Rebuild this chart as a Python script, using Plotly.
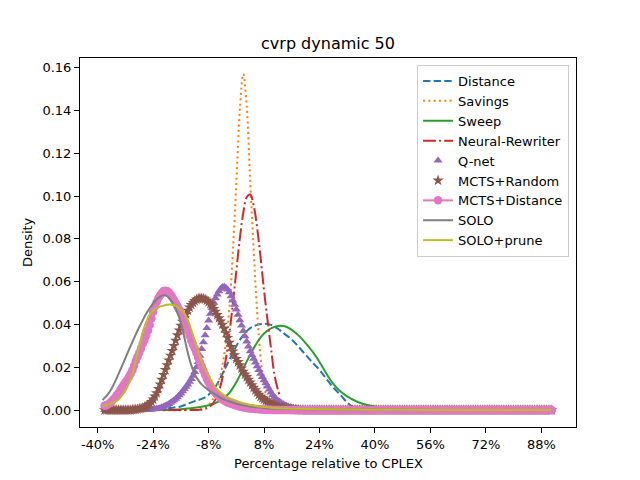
import plotly.graph_objects as go

# ---------------- data ----------------
X_TICKS = [-40, -24, -8, 8, 24, 40, 56, 72, 88]
X_TICK_TEXT = ["-40%", "-24%", "-8%", "8%", "24%", "40%", "56%", "72%", "88%"]
Y_TICKS = [0.00, 0.02, 0.04, 0.06, 0.08, 0.10, 0.12, 0.14, 0.16]

# line series (percentage, density)
DISTANCE_X = [-38, -26, -24, -22, -20, -18, -16, -14, -12, -10,
              -8, -6, -4, -2, 0, 2, 4, 6, 8, 10,
              12, 14, 16, 18, 20, 22, 24, 26, 28, 30,
              32, 34, 36, 38, 91]
DISTANCE_Y = [0.0000, 0.0001, 0.0002, 0.0005, 0.0008, 0.0012, 0.0017, 0.0030, 0.0042, 0.0052,
              0.0072, 0.0110, 0.0170, 0.0235, 0.0300, 0.0350, 0.0383, 0.0398, 0.0403, 0.0398,
              0.0380, 0.0355, 0.0330, 0.0295, 0.0258, 0.0222, 0.0188, 0.0145, 0.0105, 0.0072,
              0.0035, 0.0012, 0.0003, 0.0000, 0.0000]

SAVINGS_X = [-38, -14, -12, -11, -10, -9, -8, -7, -6, -5,
             -4, -3, -2, -1, 0, 1, 2, 3, 4, 5,
             6, 7, 8, 9, 10, 11, 12]
SAVINGS_Y = [0.0000, 0.0000, 0.0001, 0.0003, 0.0006, 0.0012, 0.0025, 0.0045, 0.0078, 0.0135,
             0.0210, 0.0320, 0.0480, 0.0740, 0.1060, 0.1400, 0.1570, 0.1420, 0.1070, 0.0750,
             0.0460, 0.0250, 0.0120, 0.0040, 0.0010, 0.0002, 0.0000]

SWEEP_X = [-38, -20, -18, -16, -14, -12, -10, -8, -6, -4,
           -2, 0, 2, 4, 6, 8, 10, 12, 14, 16,
           18, 20, 22, 24, 26, 28, 30, 32, 34, 36,
           38, 40, 42, 44, 46, 48, 50, 54, 58, 62,
           91]
SWEEP_Y = [0.0000, 0.0001, 0.0002, 0.0004, 0.0007, 0.0011, 0.0016, 0.0023, 0.0033, 0.0052,
           0.0080, 0.0130, 0.0195, 0.0258, 0.0316, 0.0358, 0.0382, 0.0393, 0.0392, 0.0375,
           0.0348, 0.0313, 0.0273, 0.0225, 0.0170, 0.0122, 0.0088, 0.0064, 0.0046, 0.0032,
           0.0023, 0.0017, 0.0013, 0.0010, 0.0008, 0.0006, 0.0005, 0.0003, 0.0001, 0.0000,
           0.0000]

REWRITER_X = [-38, -14, -12, -11, -10, -9, -8, -7, -6, -5,
              -4, -3, -2, -1, 0, 1, 2, 3, 4, 5,
              6, 7, 8, 9, 10, 11, 12, 12.4]
REWRITER_Y = [0.0000, 0.0000, 0.0000, 0.0001, 0.0002, 0.0006, 0.0013, 0.0026, 0.0050, 0.0089,
              0.0151, 0.0240, 0.0357, 0.0497, 0.0651, 0.0800, 0.0921, 0.0994, 0.1007, 0.0957,
              0.0853, 0.0713, 0.0558, 0.0420, 0.0290, 0.0165, 0.0095, 0.0075]

SOLO_X = [-38.6, -37, -36, -35, -34, -33, -32, -31, -30, -29,
          -28, -27, -26, -25, -24, -23, -22, -21, -20, -19,
          -18, -17, -16, -15, -14, -13, -12, -11, -10, -8,
          -6, -4, -2, 0, 2, 4, 6, 8, 10, 14,
          20, 30, 45, 60, 91]
SOLO_Y = [0.0047, 0.0075, 0.0100, 0.0132, 0.0168, 0.0205, 0.0243, 0.0281, 0.0318, 0.0354,
          0.0388, 0.0420, 0.0450, 0.0476, 0.0499, 0.0517, 0.0530, 0.0536, 0.0533, 0.0515,
          0.0490, 0.0455, 0.0408, 0.0340, 0.0268, 0.0210, 0.0168, 0.0140, 0.0120, 0.0093,
          0.0072, 0.0052, 0.0040, 0.0030, 0.0022, 0.0017, 0.0013, 0.0010, 0.0008, 0.0006,
          0.0004, 0.0003, 0.0002, 0.0001, 0.0001]

PRUNE_X = [-38.6, -37, -36, -35, -34, -33, -32, -31, -30, -29,
           -28, -27, -26, -25, -24, -23, -22, -21, -20, -19,
           -18, -17, -16, -15, -14, -13, -12, -11, -10, -9,
           -8, -7, -6, -4, -2, 0, 2, 4, 6, 8,
           10, 15, 25, 40, 60, 91]
PRUNE_Y = [0.0018, 0.0026, 0.0032, 0.0038, 0.0050, 0.0068, 0.0090, 0.0125, 0.0171, 0.0235,
           0.0300, 0.0365, 0.0412, 0.0445, 0.0465, 0.0477, 0.0484, 0.0488, 0.0492, 0.0493,
           0.0490, 0.0482, 0.0468, 0.0450, 0.0420, 0.0375, 0.0325, 0.0272, 0.0225, 0.0188,
           0.0158, 0.0128, 0.0104, 0.0075, 0.0056, 0.0043, 0.0032, 0.0024, 0.0018, 0.0014,
           0.0011, 0.0007, 0.0004, 0.0002, 0.0001, 0.0001]

# marker series, sampled every 0.5% from -38% to 91% (259 samples)
MARK_X = [-38 + 0.5 * i for i in range(259)]

# Q-net: zero up to -26.5%, values from -26% to 23%, zero afterwards
QNET_Y = ([0.0] * 24 +
          [0.0001, 0.0001, 0.0002, 0.0003, 0.0004, 0.0005, 0.0006, 0.0008, 0.0010, 0.0013,
           0.0016, 0.0020, 0.0024, 0.0029, 0.0034, 0.0040, 0.0046, 0.0053, 0.0060, 0.0069,
           0.0078, 0.0088, 0.0098, 0.0109, 0.0120, 0.0132, 0.0145, 0.0160, 0.0178, 0.0200,
           0.0225, 0.0254, 0.0285, 0.0317, 0.0350, 0.0384, 0.0418, 0.0450, 0.0478, 0.0502,
           0.0522, 0.0540, 0.0555, 0.0567, 0.0575, 0.0576, 0.0572, 0.0563, 0.0550, 0.0532,
           0.0512, 0.0492, 0.0470, 0.0445, 0.0420, 0.0395, 0.0370, 0.0345, 0.0320, 0.0297,
           0.0275, 0.0257, 0.0240, 0.0222, 0.0205, 0.0187, 0.0170, 0.0155, 0.0140, 0.0125,
           0.0110, 0.0096, 0.0082, 0.0070, 0.0060, 0.0052, 0.0045, 0.0039, 0.0033, 0.0028,
           0.0024, 0.0020, 0.0017, 0.0014, 0.0012, 0.0010, 0.0008, 0.0006, 0.0005, 0.0004,
           0.0003, 0.0002, 0.0002, 0.0001, 0.0001, 0.0001, 0.0001, 0.0000, 0.0000] +
          [0.0] * 136)

# MCTS+Random: zero up to -30.5%, values from -30% to 19%, zero afterwards
RANDOM_Y = ([0.0] * 16 +
            [0.0002, 0.0002, 0.0003, 0.0004, 0.0006, 0.0008, 0.0010, 0.0013, 0.0017, 0.0023,
             0.0030, 0.0039, 0.0050, 0.0064, 0.0080, 0.0099, 0.0120, 0.0142, 0.0165, 0.0188,
             0.0210, 0.0233, 0.0255, 0.0277, 0.0300, 0.0325, 0.0350, 0.0373, 0.0395, 0.0413,
             0.0430, 0.0448, 0.0465, 0.0480, 0.0492, 0.0502, 0.0510, 0.0516, 0.0520, 0.0522,
             0.0522, 0.0521, 0.0518, 0.0512, 0.0505, 0.0496, 0.0485, 0.0473, 0.0460, 0.0445,
             0.0430, 0.0415, 0.0400, 0.0381, 0.0360, 0.0338, 0.0315, 0.0295, 0.0275, 0.0257,
             0.0240, 0.0225, 0.0210, 0.0195, 0.0180, 0.0167, 0.0155, 0.0142, 0.0130, 0.0117,
             0.0105, 0.0093, 0.0082, 0.0072, 0.0063, 0.0056, 0.0050, 0.0044, 0.0039, 0.0034,
             0.0030, 0.0026, 0.0022, 0.0019, 0.0016, 0.0013, 0.0011, 0.0009, 0.0008, 0.0006,
             0.0005, 0.0004, 0.0003, 0.0002, 0.0002, 0.0001, 0.0001, 0.0000, 0.0000] +
            [0.0] * 144)

# MCTS+Distance: values from -38% to 11%, zero afterwards
MCTS_DIST_Y = ([0.0020, 0.0023, 0.0027, 0.0033, 0.0040, 0.0049, 0.0058, 0.0069, 0.0080, 0.0093,
                0.0106, 0.0118, 0.0130, 0.0142, 0.0155, 0.0170, 0.0186, 0.0207, 0.0230, 0.0249,
                0.0268, 0.0289, 0.0310, 0.0328, 0.0348, 0.0372, 0.0398, 0.0428, 0.0458, 0.0484,
                0.0505, 0.0522, 0.0535, 0.0547, 0.0556, 0.0558, 0.0556, 0.0549, 0.0540, 0.0528,
                0.0515, 0.0500, 0.0485, 0.0470, 0.0455, 0.0438, 0.0418, 0.0394, 0.0370, 0.0347,
                0.0325, 0.0307, 0.0288, 0.0267, 0.0245, 0.0225, 0.0205, 0.0185, 0.0165, 0.0147,
                0.0130, 0.0114, 0.0100, 0.0089, 0.0080, 0.0071, 0.0063, 0.0056, 0.0050, 0.0045,
                0.0040, 0.0036, 0.0033, 0.0030, 0.0027, 0.0024, 0.0022, 0.0019, 0.0017, 0.0015,
                0.0013, 0.0011, 0.0010, 0.0009, 0.0008, 0.0007, 0.0006, 0.0005, 0.0005, 0.0004,
                0.0004, 0.0003, 0.0003, 0.0002, 0.0002, 0.0002, 0.0002, 0.0001, 0.0001] +
               [0.0] * 160)

# ---------------- styling ----------------
C_BLUE, C_ORANGE, C_GREEN, C_RED = "#1f77b4", "#ff7f0e", "#2ca02c", "#d62728"
C_PURPLE, C_BROWN, C_PINK, C_GRAY, C_OLIVE = "#9467bd", "#8c564b", "#e377c2", "#7f7f7f", "#bcbd22"
FONT = "DejaVu Sans"

fig = go.Figure()

fig.add_trace(go.Scatter(x=DISTANCE_X, y=DISTANCE_Y, mode="lines", name="Distance",
                         line=dict(color=C_BLUE, width=2, dash="7.4px,3.2px", shape="spline")))
fig.add_trace(go.Scatter(x=SAVINGS_X, y=SAVINGS_Y, mode="lines", name="Savings",
                         line=dict(color=C_ORANGE, width=2, dash="2px,3.3px", shape="spline")))
fig.add_trace(go.Scatter(x=SWEEP_X, y=SWEEP_Y, mode="lines", name="Sweep",
                         line=dict(color=C_GREEN, width=2, shape="spline")))
fig.add_trace(go.Scatter(x=REWRITER_X, y=REWRITER_Y, mode="lines", name="Neural-Rewriter",
                         line=dict(color=C_RED, width=2, dash="12.8px,3.2px,2px,3.2px", shape="spline")))
fig.add_trace(go.Scatter(x=MARK_X, y=QNET_Y, mode="markers", name="Q-net",
                         marker=dict(color=C_PURPLE, size=8, symbol="triangle-up", line=dict(width=0))))
fig.add_trace(go.Scatter(x=MARK_X, y=RANDOM_Y, mode="markers", name="MCTS+Random",
                         marker=dict(color=C_BROWN, size=8.5, symbol="star", line=dict(width=0))))
fig.add_trace(go.Scatter(x=MARK_X, y=MCTS_DIST_Y, mode="lines+markers", name="MCTS+Distance",
                         line=dict(color=C_PINK, width=2),
                         marker=dict(color=C_PINK, size=8.5, symbol="circle", line=dict(width=0))))
fig.add_trace(go.Scatter(x=SOLO_X, y=SOLO_Y, mode="lines", name="SOLO",
                         line=dict(color=C_GRAY, width=2, shape="spline")))
fig.add_trace(go.Scatter(x=PRUNE_X, y=PRUNE_Y, mode="lines", name="SOLO+prune",
                         line=dict(color=C_OLIVE, width=2, shape="spline")))

axis_common = dict(showline=True, mirror=True, linecolor="black", linewidth=1,
                   ticks="outside", ticklen=5, tickwidth=1, tickcolor="black",
                   showgrid=False, zeroline=False,
                   tickfont=dict(family=FONT, size=13, color="black"))

fig.update_xaxes(range=[-45.1, 98.0], tickmode="array", tickvals=X_TICKS,
                 ticktext=X_TICK_TEXT, **axis_common)
fig.update_yaxes(range=[-0.0079, 0.1645], tickmode="array", tickvals=Y_TICKS,
                 ticktext=[f"{v:.2f}" for v in Y_TICKS], **axis_common)

# the page body adds an 8px margin, so the figure is sized to fit inside it
W, H = 624, 464
fig.update_layout(
    width=W, height=H,
    margin=dict(l=72, r=56, t=50, b=45),
    paper_bgcolor="white", plot_bgcolor="white",
    font=dict(family=FONT, size=13, color="black"),
    title=dict(text="cvrp dynamic 50", x=0.5, xanchor="center", xref="paper",
               y=1 - 35 / H, yref="container", yanchor="middle",
               font=dict(family=FONT, size=16, color="black")),
    legend=dict(x=0.986, y=0.981, xanchor="right", yanchor="top",
                bgcolor="rgba(255,255,255,0.8)", bordercolor="#cccccc", borderwidth=1,
                font=dict(family=FONT, size=13, color="black")),
    annotations=[
        dict(text="Percentage relative to CPLEX", xref="paper", yref="paper",
             x=0.5, y=-0.0976, xanchor="center", yanchor="middle", showarrow=False,
             font=dict(family=FONT, size=13, color="black")),
        dict(text="Density", xref="paper", yref="paper", textangle=-90,
             x=-0.1069, y=0.501, xanchor="center", yanchor="middle", showarrow=False,
             font=dict(family=FONT, size=13, color="black")),
    ],
)

fig.write_html("out.html")
